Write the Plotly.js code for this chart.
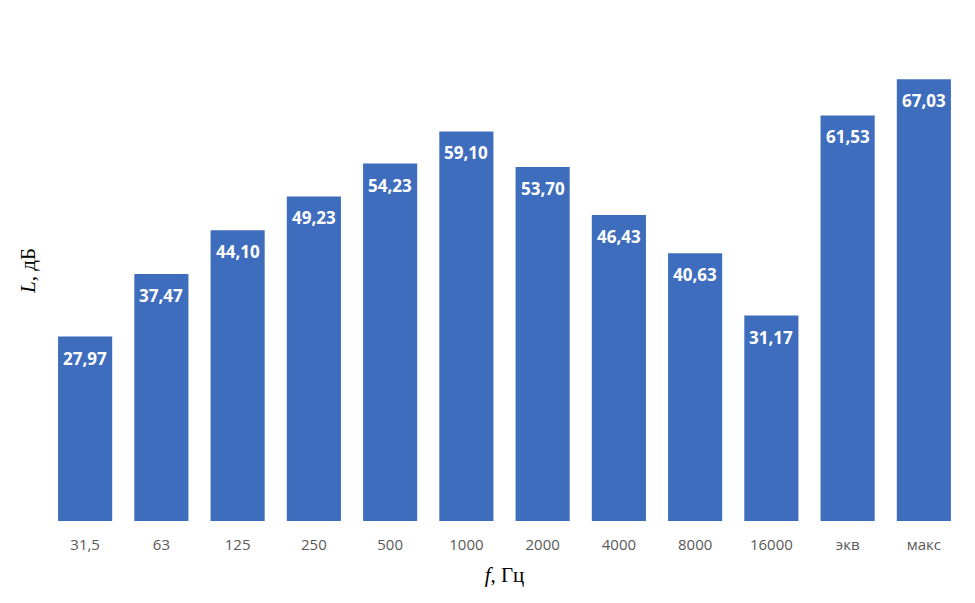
<!DOCTYPE html>
<html>
<head>
<meta charset="utf-8">
<script src="https://cdn.plot.ly/plotly-3.0.1.min.js"></script>
<style>
  html, body { margin: 0; padding: 0; background: #fff; }
  #chart { width: 975px; height: 603px; }
</style>
</head>
<body>
<div id="chart"></div>
<script>
(function () {
  'use strict';

  /* ── Data ── */
  var categories = ['31,5', '63', '125', '250', '500', '1000', '2000', '4000', '8000', '16000', 'экв', 'макс'];
  var levels     = [27.97, 37.47, 44.10, 49.23, 54.23, 59.10, 53.70, 46.43, 40.63, 31.17, 61.53, 67.03];

  /* ── Comma decimal, two places ── */
  function fmt(v) { return v.toFixed(2).replace('.', ','); }

  var trace = {
    type: 'bar',
    x: categories,
    y: levels,
    marker: { color: '#3F6DBE', line: { width: 0 } },
    hoverinfo: 'x+y'
  };

  /* value labels sit inside the bar, just under its top (x = category index) */
  var ann = levels.map(function (v, i) {
    return {
      x: i, y: v, xref: 'x', yref: 'y',
      text: '<b>' + fmt(v) + '</b>',
      showarrow: false, xanchor: 'center', yanchor: 'top', yshift: -8,
      font: { family: '"Open Sans", sans-serif', size: 17, color: '#FFFFFF' }
    };
  });

  var layout = {
    width: 975,
    height: 603,
    margin: { l: 47, r: 13, t: 20, b: 82 },
    bargap: 0.29,
    showlegend: false,
    paper_bgcolor: '#FFFFFF',
    plot_bgcolor: '#FFFFFF',
    font: { family: '"Open Sans", sans-serif' },
    annotations: ann,
    xaxis: {
      type: 'category',
      categoryarray: categories,
      showgrid: false, zeroline: false, showline: false,
      ticks: '',
      tickfont: { size: 15, color: '#595959' },
      ticklabelstandoff: 13,
      title: {
        text: '<i>f</i>, Гц',
        font: { family: '"Liberation Serif", "Times New Roman", serif', size: 21, color: '#000000' },
        standoff: 14
      }
    },
    yaxis: {
      range: [0, 76],
      showgrid: false, zeroline: false, showline: false,
      showticklabels: false, ticks: '',
      title: {
        text: '<i>L</i>, дБ',
        font: { family: '"Liberation Serif", "Times New Roman", serif', size: 21, color: '#000000' },
        standoff: 4
      }
    }
  };

  Plotly.newPlot('chart', [trace], layout, { displayModeBar: false, staticPlot: true });
})();
</script>
</body>
</html>
